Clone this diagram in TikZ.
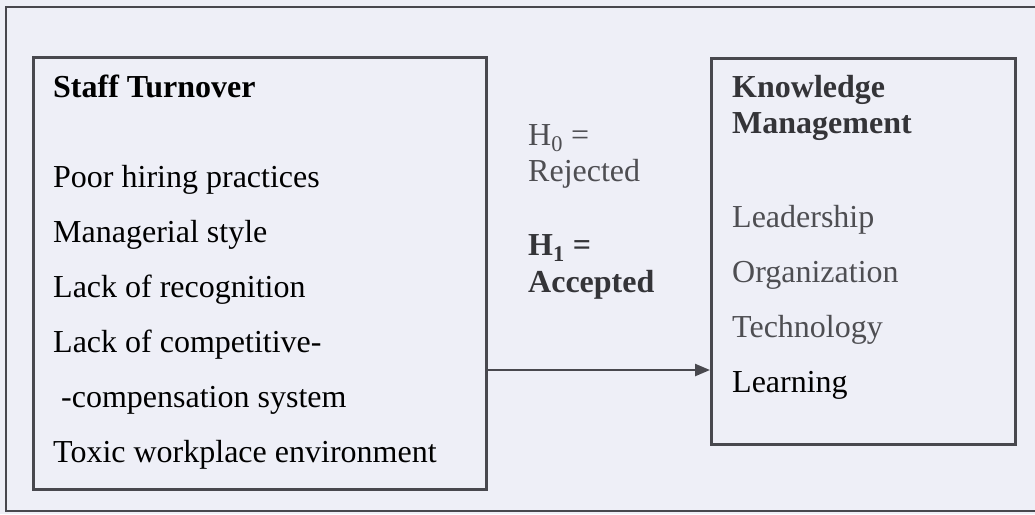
\documentclass[tikz,border=0pt]{standalone}
\usepackage{fontspec}
\setmainfont{Liberation Serif}
\usetikzlibrary{arrows.meta}
\definecolor{paper}{RGB}{238,239,247}
\definecolor{ink}{RGB}{72,72,78}
\definecolor{softink}{RGB}{78,78,82}
\definecolor{midink}{RGB}{52,52,56}
\begin{document}
\begin{tikzpicture}[x=1pt,y=-1pt,
  frame/.style={draw=ink,line width=2pt},
  box/.style={draw=ink,line width=2.6pt,inner sep=0pt,anchor=north west},
  txt/.style={anchor=base west,inner sep=0pt,font=\fontsize{32}{36}\selectfont},
  head/.style={txt,font=\fontsize{32}{36}\selectfont\bfseries},
  conn/.style={draw=ink,line width=2.4pt,-{Triangle[length=15pt,width=12pt]}}]
  % page and outer frame
  \fill[paper] (0,0) rectangle (1035,514);
  \useasboundingbox (0,0) rectangle (1035,514);
  \draw[frame] (6,7) rectangle (1045,511);

  % the two boxes
  \node[box,minimum width=453pt,minimum height=432pt] (cause) at (32,56) {};
  \node[box,minimum width=304pt,minimum height=386pt] (effect) at (710,57) {};

  % staff turnover factors
  \node[head] (st) at (53,97) {Staff Turnover};
  \node[txt] (f1) at (53,187) {Poor hiring practices};
  \node[txt] (f2) at (53,242) {Managerial style};
  \node[txt] (f3) at (53,297) {Lack of recognition};
  \node[txt] (f4) at (53,352) {Lack of competitive-};
  \node[txt] (f5) at (61,407) {-compensation system};
  \node[txt] (f6) at (53,462) {Toxic workplace environment};

  % hypotheses
  \node[txt,text=softink] (h0) at (528,145) {H\textsubscript{0} =};
  \node[txt,text=softink] (h0r) at (528,181) {Rejected};
  \node[head,text=midink] (h1) at (528,255) {H\textsubscript{1} =};
  \node[head,text=midink] (h1a) at (528,292) {Accepted};

  % knowledge management dimensions
  \node[head,text=midink] (km1) at (732,97) {Knowledge};
  \node[head,text=midink] (km2) at (732,133) {Management};
  \node[txt,text=softink] (d1) at (732,227) {Leadership};
  \node[txt,text=softink] (d2) at (732,282) {Organization};
  \node[txt,text=softink] (d3) at (732,337) {Technology};
  \node[txt] (d4) at (732,392) {Learning};

  % relation arrow
  \coordinate (lvl) at (600,370);
  \draw[conn] (cause.east |- lvl) -- (effect.west |- lvl);
\end{tikzpicture}
\end{document}
